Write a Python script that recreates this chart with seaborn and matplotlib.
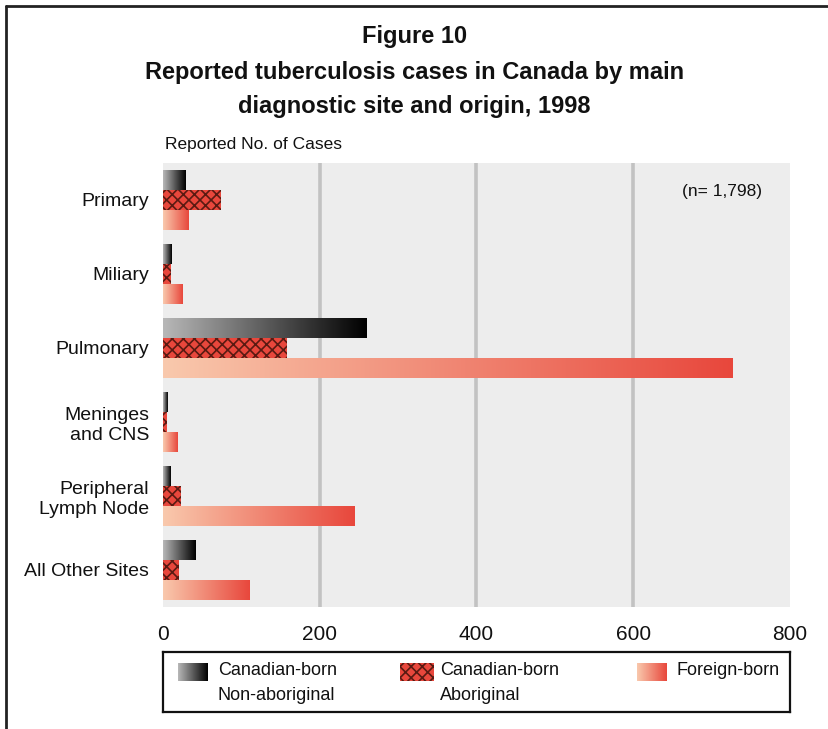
import numpy as np
import pandas as pd
import matplotlib
matplotlib.use("Agg")
import matplotlib.pyplot as plt
import seaborn as sns
from matplotlib.colors import LinearSegmentedColormap
from matplotlib.patches import Rectangle
from matplotlib.lines import Line2D

# Data
sites = ["Primary", "Miliary", "Pulmonary", "Meninges\nand CNS",
         "Peripheral\nLymph Node", "All Other Sites"]
origins = ["Canadian-born\nNon-aboriginal", "Canadian-born\nAboriginal", "Foreign-born"]
non_aboriginal = [29, 11, 260, 6, 9, 41]
aboriginal = [74, 10, 158, 5, 23, 20]
foreign_born = [33, 25, 727, 19, 244, 110]
x_ticks = [0, 200, 400, 600, 800]

df = pd.DataFrame({
    "Site": sites * 3,
    "Origin": [origins[0]] * 6 + [origins[1]] * 6 + [origins[2]] * 6,
    "Cases": non_aboriginal + aboriginal + foreign_born,
})

sns.set_style("white")
plt.rcParams["font.family"] = ["Liberation Sans", "DejaVu Sans"]
plt.rcParams["text.color"] = "#111111"
plt.rcParams["xtick.color"] = "#111111"
plt.rcParams["ytick.color"] = "#111111"
plt.rcParams["hatch.linewidth"] = 1.2
plt.rcParams["hatch.color"] = "#5a1a12"

RED = "#e8473c"
gray_cmap = LinearSegmentedColormap.from_list("gray", ["#b8b8b8", "#000000"])
red_cmap = LinearSegmentedColormap.from_list("red", ["#f9c9ad", RED])
grad = np.linspace(0, 1, 256).reshape(1, -1)

fig = plt.figure(figsize=(8.29, 7.29), dpi=100)
ax = fig.add_axes([163 / 829, 1 - 607 / 729, 627 / 829, 444 / 729])

sns.barplot(data=df, x="Cases", y="Site", hue="Origin", orient="h",
            palette=["#888888", RED, "#f29a7a"], width=0.81,
            saturation=1, legend=False, ax=ax, zorder=3)

ax.set_facecolor("#ededed")
for s in ax.spines.values():
    s.set_visible(False)
ax.set_xticks(x_ticks)
ax.set_xticklabels([str(t) for t in x_ticks])
for t in x_ticks[1:-1]:
    ax.axvline(t, color="#c2c2c2", linewidth=2.6, zorder=1)
ax.tick_params(axis="x", length=0, pad=13, labelsize=15)
ax.tick_params(axis="y", length=0, pad=10, labelsize=14)
for lab in ax.get_yticklabels():
    lab.set_multialignment("right")
ax.set_xlabel("")
ax.set_ylabel("")

# gradient fills on bars
for cont, cmap in [(ax.containers[0], gray_cmap), (ax.containers[2], red_cmap)]:
    for bar in cont:
        x0, y0 = bar.get_x(), bar.get_y()
        w, h = bar.get_width(), bar.get_height()
        im = ax.imshow(grad, cmap=cmap, aspect="auto", extent=[x0, x0 + w, y0 + h, y0],
                       zorder=3, interpolation="bilinear")
        im.set_clip_path(bar)
        bar.set_facecolor("none")
        bar.set_linewidth(0)
for bar in ax.containers[1]:
    bar.set_hatch("xxx")
    bar.set_edgecolor("#5a1a12")
    bar.set_linewidth(0)
ax.set_xlim(0, 800)
ax.set_ylim(5.5, -0.5)

ax.text(0.955, 0.935, "(n= 1,798)", transform=ax.transAxes, ha="right",
        va="center", fontsize=12.5)

# titles
fig.text(0.5, 1 - 36 / 729, "Figure 10", ha="center", va="center",
         fontsize=17, fontweight="bold")
fig.text(0.5, 1 - 72 / 729, "Reported tuberculosis cases in Canada by main",
         ha="center", va="center", fontsize=17, fontweight="bold")
fig.text(0.5, 1 - 106 / 729, "diagnostic site and origin, 1998",
         ha="center", va="center", fontsize=17, fontweight="bold")
fig.text(165 / 829, 1 - 145 / 729, "Reported No. of Cases", ha="left",
         va="center", fontsize=12.5)

# frame lines
fig.add_artist(Line2D([6 / 829, 6 / 829], [0, 1 - 6 / 729], color="#222222", lw=2))
fig.add_artist(Line2D([6 / 829, 1], [1 - 6 / 729, 1 - 6 / 729], color="#222222", lw=2))

# legend box
lg = fig.add_axes([163 / 829, 1 - 712 / 729, 627 / 829, 60 / 729])
lg.set_xticks([])
lg.set_yticks([])
for s in lg.spines.values():
    s.set_color("#111111")
    s.set_linewidth(1.6)
sw = [(15, gray_cmap, None), (237, None, "xxx"), (474, red_cmap, None)]
for (sx, cmap, hatch), label in zip(sw, origins):
    if cmap is not None:
        lg.imshow(grad, cmap=cmap, aspect="auto", extent=[sx, sx + 30, 29, 11],
                  interpolation="bilinear")
    else:
        lg.add_patch(Rectangle((sx, 11), 34, 18, facecolor=RED, hatch=hatch,
                               edgecolor="#5a1a12", linewidth=0))
    lg.text(sx + 40, 10, label, ha="left", va="top", fontsize=13, linespacing=1.6)
lg.set_xlim(0, 627)
lg.set_ylim(60, 0)

fig.savefig("out.png", dpi=100)
